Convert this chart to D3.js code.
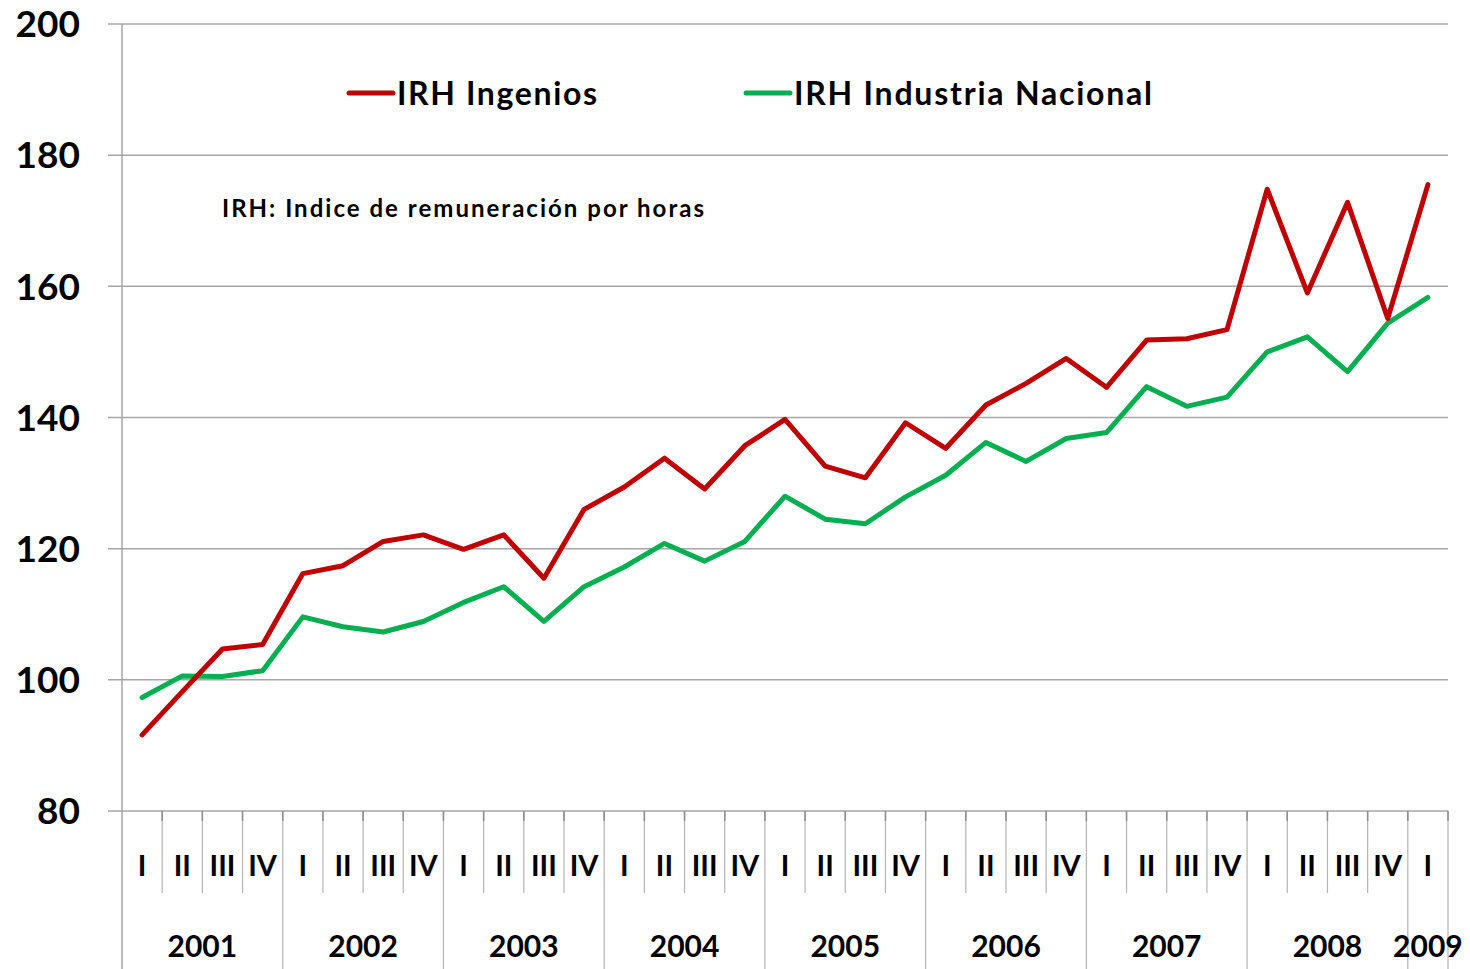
<!DOCTYPE html>
<html>
<head>
<meta charset="utf-8">
<script src="https://cdn.jsdelivr.net/npm/d3@7"></script>
<style>
  html, body { margin: 0; padding: 0; background: #fff; }
  svg { display: block; font-family: Lato, "Open Sans", sans-serif; font-weight: bold; }
</style>
</head>
<body>
<div id="chart"></div>
<script>
// ---- DATA ----
const years = ["2001", "2002", "2003", "2004", "2005", "2006", "2007", "2008", "2009"];
const quarterNames = ["I", "II", "III", "IV"];
const ingenios = [91.6, 98.2, 104.7, 105.4, 116.2, 117.4, 121.1, 122.1, 119.9, 122.1, 115.5,
    126.0, 129.4, 133.8, 129.1, 135.7, 139.7, 132.6, 130.8, 139.2, 135.3, 141.9,
    145.2, 149.0, 144.6, 151.8, 152.0, 153.4, 174.8, 159.0, 172.8, 155.1, 175.5];
const nacional = [97.3, 100.6, 100.5, 101.4, 109.6, 108.1, 107.3, 108.9, 111.8, 114.2, 108.9,
    114.2, 117.2, 120.8, 118.1, 121.1, 128.0, 124.5, 123.8, 127.9, 131.2, 136.2,
    133.3, 136.8, 137.7, 144.7, 141.7, 143.1, 150.0, 152.3, 147.0, 154.4, 158.3];
const yTicks = [80, 100, 120, 140, 160, 180, 200];
const seriesNames = ["IRH Ingenios", "IRH Industria Nacional"];
const note = "IRH: Indice de remuneración por horas";

// quarters list: 2001 I ... 2009 I
const quarters = ingenios.map((v, i) => ({
    year: years[Math.floor(i / 4)],
    q: quarterNames[i % 4],
    idx: i
}));

const W = 1470, H = 969;
const plotL = 122, plotR = 1448, plotT = 24, plotB = 811;
const red = "#C00000", green = "#00B050";

const svg = d3.select("#chart").append("svg")
    .attr("width", W)
    .attr("height", H);

const x = d3.scaleBand()
    .domain(quarters.map(d => d.idx))
    .range([plotL, plotR])
    .padding(0);

const y = d3.scaleLinear()
    .domain([80, 200])
    .range([plotB, plotT]);

const cx = i => x(i) + x.bandwidth() / 2;

// gridlines + y labels
svg.append("g").selectAll("line")
    .data(yTicks)
    .enter().append("line")
    .attr("x1", plotL - 14)
    .attr("x2", plotR)
    .attr("y1", d => y(d))
    .attr("y2", d => y(d))
    .attr("stroke", "#a6a6a6")
    .attr("stroke-width", 1.5);

svg.append("g").selectAll("text")
    .data(yTicks)
    .enter().append("text")
    .attr("x", 80)
    .attr("y", d => y(d))
    .attr("dy", "0.36em")
    .attr("text-anchor", "end")
    .attr("font-size", "37px")
    .attr("fill", "#000")
    .text(d => d);

// y axis line, running down to the bottom
svg.append("line")
    .attr("x1", plotL).attr("x2", plotL)
    .attr("y1", plotT).attr("y2", H)
    .attr("stroke", "#a6a6a6")
    .attr("stroke-width", 1.5);

// category dividers
const boundaries = d3.range(1, quarters.length + 1);
const bx = i => i < quarters.length ? x(i) : plotR;
svg.append("g").selectAll("line")
    .data(boundaries)
    .enter().append("line")
    .attr("x1", bx)
    .attr("x2", bx)
    .attr("y1", plotB)
    .attr("y2", i => (i % 4 === 0 || i === quarters.length) ? H : 893)
    .attr("stroke", "#b4b4b4")
    .attr("stroke-width", 1.2);

// small tick marks under the axis
svg.append("g").selectAll("line")
    .data(boundaries)
    .enter().append("line")
    .attr("x1", bx)
    .attr("x2", bx)
    .attr("y1", plotB)
    .attr("y2", plotB + 10)
    .attr("stroke", "#8c8c8c")
    .attr("stroke-width", 1.5);

// quarter labels
svg.append("g").selectAll("text")
    .data(quarters)
    .enter().append("text")
    .attr("x", d => cx(d.idx))
    .attr("y", 866)
    .attr("dy", "0.36em")
    .attr("text-anchor", "middle")
    .attr("font-size", "29px")
    .text(d => d.q);

// year labels
const yearGroups = d3.groups(quarters, d => d.year);
svg.append("g").selectAll("text")
    .data(yearGroups)
    .enter().append("text")
    .attr("x", d => (x(d[1][0].idx) + x(d[1][d[1].length - 1].idx) + x.bandwidth()) / 2)
    .attr("y", 946)
    .attr("dy", "0.36em")
    .attr("text-anchor", "middle")
    .attr("font-size", "30px")
    .text(d => d[0]);

// lines
const line = d3.line()
    .x((d, i) => cx(i))
    .y(d => y(d));

svg.append("path")
    .datum(nacional)
    .attr("fill", "none")
    .attr("stroke", green)
    .attr("stroke-width", 5)
    .attr("stroke-linejoin", "round")
    .attr("stroke-linecap", "round")
    .attr("d", line);

svg.append("path")
    .datum(ingenios)
    .attr("fill", "none")
    .attr("stroke", red)
    .attr("stroke-width", 5)
    .attr("stroke-linejoin", "round")
    .attr("stroke-linecap", "round")
    .attr("d", line);

// legend
const legend = [
    { name: seriesNames[0], color: red, x0: 349, len: 200 },
    { name: seriesNames[1], color: green, x0: 746, len: 358 }
];
const lg = svg.append("g").selectAll("g")
    .data(legend)
    .enter().append("g");
lg.append("line")
    .attr("x1", d => d.x0).attr("x2", d => d.x0 + 44)
    .attr("y1", 93).attr("y2", 93)
    .attr("stroke", d => d.color)
    .attr("stroke-width", 5)
    .attr("stroke-linecap", "round");
lg.append("text")
    .attr("x", d => d.x0 + 48)
    .attr("y", 93)
    .attr("dy", "0.36em")
    .attr("font-size", "32px")
    .attr("textLength", d => d.len)
    .attr("lengthAdjust", "spacing")
    .text(d => d.name);

svg.append("text")
    .attr("x", 222)
    .attr("y", 208)
    .attr("dy", "0.36em")
    .attr("font-size", "24px")
    .attr("textLength", 482)
    .attr("lengthAdjust", "spacing")
    .text(note);
</script>
</body>
</html>
